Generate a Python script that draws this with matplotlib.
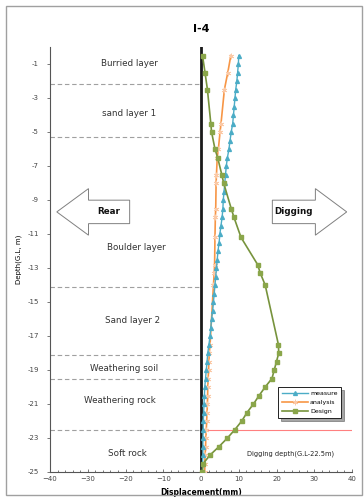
import matplotlib
matplotlib.use("Agg")
import matplotlib.pyplot as plt
from matplotlib.patches import Polygon, Rectangle
import numpy as np

# ---- data -------------------------------------------------------------
measure_depth = [0.5, 1.0, 1.5, 2.0, 2.5, 3.0, 3.5, 4.0, 4.5, 5.0,
                 5.5, 6.0, 6.5, 7.0, 7.5, 8.0, 8.5, 9.0, 9.5, 10.0,
                 10.5, 11.0, 11.5, 12.0, 12.5, 13.0, 13.5, 14.0, 14.5, 15.0,
                 15.5, 16.0, 16.5, 17.0, 17.5, 18.0, 18.5, 19.0, 19.5, 20.0,
                 20.5, 21.0, 21.5, 22.0, 22.5, 23.0, 23.5, 24.0, 24.5, 25.0]
measure_disp = [10.0, 9.9, 9.7, 9.5, 9.2, 9.0, 8.8, 8.6, 8.4, 8.0,
                7.7, 7.4, 7.0, 6.7, 6.5, 6.3, 6.1, 5.9, 5.8, 5.6,
                5.3, 5.0, 4.8, 4.5, 4.3, 4.1, 3.9, 3.7, 3.5, 3.3,
                3.1, 2.8, 2.6, 2.4, 2.1, 1.8, 1.6, 1.4, 1.2, 1.0,
                0.9, 0.8, 0.7, 0.6, 0.6, 0.5, 0.5, 0.5, 0.4, 0.4]

calc_depth = [0.5, 1.5, 2.5, 4.5, 5.0, 6.0, 6.5, 7.5, 8.0, 9.5,
              10.0, 11.2, 12.8, 13.3, 14.0, 17.5, 18.0, 18.5, 19.0, 19.5,
              20.0, 20.5, 21.0, 21.5, 22.0, 22.5, 23.0, 23.5, 24.0, 24.5, 25.0]
analysis_disp = [7.9, 7.1, 6.2, 5.3, 5.05, 4.6, 4.3, 4.1, 4.0, 3.9,
                 3.8, 3.7, 3.6, 3.5, 3.3, 2.4, 2.2, 2.1, 2.0, 1.9,
                 1.8, 1.75, 1.7, 1.6, 1.5, 1.4, 1.3, 1.2, 1.1, 1.0, 1.0]
design_disp = [0.4, 1.06, 1.7, 2.6, 2.8, 3.7, 4.4, 5.5, 6.0, 8.0,
               8.7, 10.6, 15.0, 15.7, 17.0, 20.5, 20.6, 20.0, 19.4, 18.8,
               17.0, 15.4, 13.9, 12.2, 10.8, 9.0, 7.0, 4.8, 2.4, 0.6, 0.3]

layer_bounds = [2.2, 5.3, 14.1, 18.1, 19.5, 22.5]
layer_names = ["Burried layer", "sand layer 1", "Boulder layer", "Sand layer 2",
               "Weathering soil", "Weathering rock", "Soft rock"]
layer_label_depth = [1.0, 3.9, 11.8, 16.1, 18.9, 20.8, 23.9]
layer_label_x = [-19.0, -19.0, -17.0, -18.0, -20.5, -21.5, -19.5]

dig_depth = 22.5
xticks = [-40, -30, -20, -10, 0, 10, 20, 30, 40]
ytick_depths = list(range(1, 26, 2))

# ---- figure -----------------------------------------------------------
plt.rcParams['font.family'] = ['DejaVu Sans']
fig = plt.figure(figsize=(3.64, 4.99), dpi=100)
fig.patches.append(Rectangle((6 / 364, 4 / 499), 356 / 364, 489 / 499,
                             transform=fig.transFigure, fill=False,
                             edgecolor='#a0a0a0', linewidth=1.0))
ax = fig.add_axes([50 / 364, 1 - 472 / 499, 302 / 364, 425 / 499])

blue = '#4bacc6'
orange = '#f79646'
green = '#77933c'

neg = lambda seq: [-v for v in seq]

ax.plot(measure_disp, neg(measure_depth), color=blue, lw=1.0,
        marker='^', ms=2.8, mfc=blue, mec=blue, zorder=4, label='measure')
ax.plot(analysis_disp, neg(calc_depth), color=orange, lw=1.2,
        marker=(6, 2, 0), ms=4.0, mec='#fbc9a6', mew=0.6, zorder=3, label='analysis')
ax.plot(design_disp, neg(calc_depth), color=green, lw=1.2,
        marker='s', ms=3.4, mfc='#8aa64a', mec='#8aa64a', zorder=5, label='Design')

# wall line
ax.plot([0, 0], [0, -25], color='#1a1a1a', lw=2.0, zorder=2)

# layer boundaries
for d in layer_bounds:
    ax.plot([-40, 0], [-d, -d], color='#a0a0a0', lw=0.8, ls=(0, (4, 2.5)), zorder=1)
for name, d, x in zip(layer_names, layer_label_depth, layer_label_x):
    ax.text(x, -d, name, ha='center', va='center', fontsize=6.3, color='#333333')

# excavation level
ax.plot([0, 40], [-dig_depth, -dig_depth], color='#ff8080', lw=0.8, zorder=1)
ax.text(12.1, -23.9, "Digging depth(G.L-22.5m)", fontsize=4.8, ha='left',
        va='center', color='#222222')

# direction arrows
def block_arrow(tail, base, tip, yc, body, head, label):
    pts = [(tail, yc + body), (base, yc + body), (base, yc + head), (tip, yc),
           (base, yc - head), (base, yc - body), (tail, yc - body)]
    ax.add_patch(Polygon(pts, closed=True, facecolor='white', edgecolor='#808080',
                         lw=0.7, zorder=2))
    ax.text((tail + base) / 2, yc, label, ha='center', va='center',
            fontsize=6.3, fontweight='bold', color='#111111', zorder=3)

block_arrow(-18.9, -29.8, -38.2, -9.7, 0.69, 1.37, "Rear")
block_arrow(18.9, 30.3, 38.6, -9.7, 0.69, 1.37, "Digging")

# axes styling
ax.set_xlim(-40, 40)
ax.set_ylim(-25, 0)
ax.set_xticks(xticks)
ax.set_xticks(np.arange(-40, 41, 2), minor=True)
ax.set_yticks([-d for d in ytick_depths])
ax.set_yticklabels([str(-d) for d in ytick_depths])
ax.tick_params(axis='x', which='both', direction='in', labelsize=5, length=2,
               width=0.5, colors='#444444', pad=3)
ax.tick_params(axis='x', which='minor', length=1.5)
ax.tick_params(axis='y', direction='out', labelsize=5, length=2, width=0.5,
               colors='#444444', pad=6)
for s in ['top', 'right']:
    ax.spines[s].set_visible(False)
for s in ['left', 'bottom']:
    ax.spines[s].set_color('#555555')
    ax.spines[s].set_linewidth(0.8)

ax.set_xlabel("Displacement(mm)", fontsize=5.5, fontweight='bold', labelpad=4)
ax.set_ylabel("Depth(G.L, m)", fontsize=5, labelpad=4)
ax.set_title("I-4", fontsize=8, fontweight='bold', pad=11)

leg = ax.legend(loc='upper left', bbox_to_anchor=(0.755, 0.2), fontsize=4.5,
                frameon=True, fancybox=False, edgecolor='#222222',
                handlelength=4.2, borderpad=0.6, labelspacing=0.6,
                handletextpad=0.3, borderaxespad=0, shadow=True)
leg.get_frame().set_linewidth(0.7)
leg.set_zorder(6)

fig.savefig("out.png", dpi=100)
